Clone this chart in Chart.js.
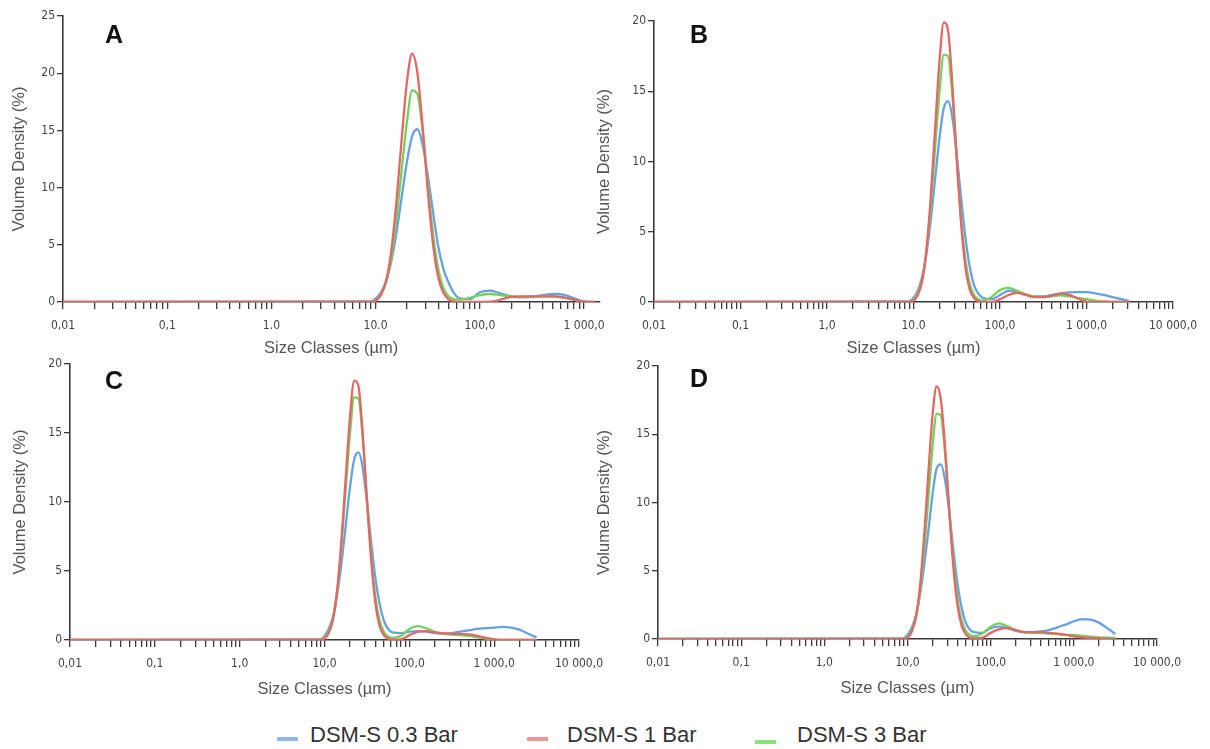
<!DOCTYPE html>
<html>
<head>
<meta charset="utf-8">
<script src="https://cdn.jsdelivr.net/npm/chart.js@4.4.1/dist/chart.umd.min.js"></script>
<style>
  html, body { margin: 0; padding: 0; background: #fff; }
  #wrap { position: relative; width: 1210px; height: 749px; overflow: hidden; background: #fff; }
  canvas { position: absolute; }
  .letter { position: absolute; font-family: 'Liberation Sans', Arial, sans-serif; font-weight: bold; font-size: 25px; line-height: 25px; color: #111; }
  .leg { position: absolute; font-family: 'Liberation Sans', Arial, sans-serif; font-size: 22px; line-height: 22px; color: #333; white-space: nowrap; }
  .sw { position: absolute; height: 4px; width: 21px; }
</style>
</head>
<body>
<div id="wrap">
  <canvas id="cA" width="615" height="362" style="left:0px;top:0px"></canvas>
  <canvas id="cB" width="615" height="362" style="left:595px;top:0px"></canvas>
  <canvas id="cC" width="615" height="362" style="left:0px;top:345px"></canvas>
  <canvas id="cD" width="615" height="362" style="left:595px;top:345px"></canvas>
  <div class="letter" style="left:105px;top:22px">A</div>
  <div class="letter" style="left:690px;top:22px">B</div>
  <div class="letter" style="left:105px;top:368px">C</div>
  <div class="letter" style="left:690px;top:366px">D</div>
  <div id="legend"></div>
</div>
<script>
// ---- data ----
const seriesNames = ['DSM-S 0.3 Bar', 'DSM-S 1 Bar', 'DSM-S 3 Bar'];
const sizeClasses = [0.01, 8.91, 10, 11.2, 12.6, 14.1, 15.8, 17.8, 20, 22.4, 25.1, 28.2, 31.6, 35.5, 39.8, 44.7, 50.1, 56.2, 63.1, 79.4, 100, 126, 158, 200, 251, 316, 398, 501, 631, 794, 1000, 1259, 1585, 1995, 2512, 3162];

const panelA_03 = [0, 0.05, 0.3, 0.8, 1.8, 3.5, 6.0, 9.2, 12.3, 14.5, 15.1, 13.8, 11.1, 7.9, 4.9, 2.9, 1.7, 0.8, 0.35, 0.25, 0.85, 1.0, 0.75, 0.5, 0.4, 0.45, 0.6, 0.7, 0.65, 0.35, 0.05, 0];
const panelA_1  = [0, 0, 0.1, 0.64, 1.85, 4.4, 8.7, 14.3, 19.3, 21.7, 20.1, 15.4, 9.8, 5.1, 2.2, 0.8, 0.25, 0.05, 0, 0, 0, 0.02, 0.2, 0.45, 0.5, 0.5, 0.5, 0.5, 0.4, 0.2, 0.03, 0];
const panelA_3  = [0, 0, 0.15, 0.6, 1.7, 3.8, 7.2, 11.6, 15.8, 18.5, 18.2, 15.0, 10.4, 6.0, 2.9, 1.2, 0.5, 0.25, 0.2, 0.35, 0.6, 0.7, 0.6, 0.5, 0.45, 0.45, 0.5, 0.5, 0.4, 0.2, 0.03, 0];

const panelB_03 = [0, 0.05, 0.3, 0.8, 1.8, 3.4, 5.8, 8.8, 11.7, 13.8, 14.3, 13.1, 10.5, 7.4, 4.6, 2.5, 1.2, 0.6, 0.3, 0.2, 0.5, 0.8, 0.7, 0.5, 0.4, 0.4, 0.5, 0.6, 0.68, 0.7, 0.7, 0.62, 0.5, 0.35, 0.2, 0.05];
const panelB_1  = [0, 0, 0.1, 0.5, 1.5, 3.7, 7.4, 12.4, 17.2, 19.9, 19.3, 15.4, 10.2, 5.6, 2.5, 0.9, 0.3, 0.05, 0, 0, 0.2, 0.5, 0.65, 0.5, 0.35, 0.35, 0.45, 0.6, 0.5, 0.25, 0.03, 0, 0, 0, 0, 0];
const panelB_3  = [0, 0, 0.15, 0.6, 1.6, 3.6, 6.8, 11.0, 15.0, 17.6, 17.5, 14.6, 10.2, 6.0, 3.0, 1.3, 0.5, 0.2, 0.1, 0.35, 0.85, 1.0, 0.8, 0.55, 0.4, 0.35, 0.4, 0.47, 0.4, 0.3, 0.2, 0.1, 0.04, 0.01, 0, 0];

const panelC_03 = [0, 0.05, 0.3, 0.8, 1.7, 3.3, 5.5, 8.3, 11.1, 13.1, 13.6, 12.5, 10.0, 7.1, 4.5, 2.6, 1.4, 0.8, 0.55, 0.5, 0.6, 0.65, 0.6, 0.5, 0.45, 0.5, 0.6, 0.7, 0.8, 0.85, 0.9, 0.95, 0.9, 0.75, 0.45, 0.2];
const panelC_1  = [0, 0, 0.1, 0.5, 1.5, 3.6, 7.1, 11.8, 16.2, 18.8, 18.4, 15.0, 10.2, 5.8, 2.7, 1.0, 0.35, 0.1, 0.02, 0.05, 0.35, 0.6, 0.65, 0.55, 0.5, 0.45, 0.45, 0.4, 0.3, 0.15, 0.05, 0, 0, 0, 0, 0];
const panelC_3  = [0, 0, 0.15, 0.6, 1.6, 3.6, 6.8, 11.0, 15.0, 17.6, 17.5, 14.6, 10.3, 6.2, 3.1, 1.4, 0.6, 0.25, 0.15, 0.3, 0.8, 1.0, 0.85, 0.6, 0.45, 0.4, 0.35, 0.3, 0.2, 0.1, 0.03, 0, 0, 0, 0, 0];

const panelD_03 = [0, 0.05, 0.3, 0.8, 1.7, 3.2, 5.3, 7.9, 10.6, 12.5, 12.8, 11.7, 9.4, 6.6, 4.1, 2.3, 1.2, 0.7, 0.5, 0.45, 0.8, 0.9, 0.8, 0.6, 0.5, 0.5, 0.55, 0.65, 0.85, 1.05, 1.3, 1.45, 1.42, 1.2, 0.8, 0.37];
const panelD_1  = [0, 0, 0.1, 0.5, 1.6, 3.8, 7.4, 12.1, 16.4, 18.5, 17.6, 14.2, 9.6, 5.4, 2.5, 1.0, 0.35, 0.1, 0.05, 0.1, 0.45, 0.7, 0.8, 0.65, 0.5, 0.5, 0.5, 0.45, 0.4, 0.3, 0.2, 0.12, 0.08, 0.05, 0.02, 0];
const panelD_3  = [0, 0, 0.15, 0.6, 1.5, 3.4, 6.4, 10.3, 14.1, 16.5, 16.4, 13.7, 9.7, 5.9, 3.0, 1.4, 0.6, 0.3, 0.2, 0.4, 0.9, 1.15, 0.95, 0.65, 0.5, 0.45, 0.45, 0.4, 0.35, 0.3, 0.3, 0.22, 0.17, 0.12, 0.09, 0.07];

const decadeTicks = [0.01, 0.1, 1, 10, 100, 1000, 10000];
const labelsA = ['0,01', '0,1', '1.0', '10.0', '100,0', '1 000,0'];
const labelsB = ['0,01', '0,1', '1,0', '10.0', '100,0', '1 000,0', '10 000,0'];
const labelsC = ['0,01', '0,1', '1,0', '10,0', '100,0', '1 000,0', '10 000,0'];
const labelsD = ['0,01', '0,1', '1,0', '10,0', '100,0', '1 000,0', '10 000,0'];
const yTicksA = [0, 5, 10, 15, 20, 25];
const yTicksBCD = [0, 5, 10, 15, 20];

// ---- styles ----
const colors = { s03: 'rgba(104,160,228,1)', s1: 'rgba(230,102,102,1)', s3: 'rgba(112,212,92,1)' };
const swatchColors = ['rgba(140,185,235,1)', 'rgba(236,150,150,1)', 'rgba(140,225,125,1)'];
const tickFont = { family: "'Liberation Sans Narrow','DejaVu Sans Condensed','Liberation Sans',sans-serif", size: 12 };
const titleFont = { family: "'Liberation Sans',Arial,sans-serif", size: 16.5 };
const axisColor = '#3a3a3a';

function pts(vals) { return vals.map((v, i) => ({ x: sizeClasses[i], y: v })); }

function makePanel(id, cfg) {
  const ds = [
    { label: seriesNames[1], data: pts(cfg.s1), borderColor: colors.s1, order: 1 },
    { label: seriesNames[2], data: pts(cfg.s3), borderColor: colors.s3, order: 2 },
    { label: seriesNames[0], data: pts(cfg.s03), borderColor: colors.s03, order: 3 }
  ].map(d => Object.assign(d, { borderWidth: 2.3, pointRadius: 0, fill: false, cubicInterpolationMode: 'monotone' }));

  const majors = decadeTicks.slice(0, cfg.labels.length);
  new Chart(document.getElementById(id), {
    type: 'line',
    data: { datasets: ds },
    options: {
      responsive: false,
      animation: false,
      devicePixelRatio: 1,
      layout: { padding: cfg.pad },
      plugins: { legend: { display: false }, tooltip: { enabled: false } },
      scales: {
        x: {
          type: 'logarithmic',
          min: 0.01, max: cfg.xmax,
          afterFit: s => { s.height = cfg.xh; },
          afterBuildTicks: s => {
            const t = [];
            majors.forEach(d => {
              t.push({ value: d, major: true });
              for (let k = 2; k <= 9; k++) { if (d * k <= cfg.xmax) t.push({ value: d * k }); }
            });
            s.ticks = t;
          },
          ticks: {
            autoSkip: false, maxRotation: 0, minRotation: 0, padding: 10, color: '#444', font: tickFont,
            callback: function (v) {
              const i = majors.findIndex(m => Math.abs(m - v) / m < 1e-6);
              return i >= 0 ? cfg.labels[i] : '';
            }
          },
          grid: { drawOnChartArea: false, drawTicks: true, tickLength: 7, color: axisColor, lineWidth: 1.3 },
          border: { display: true, color: axisColor, width: 1.6 },
          title: { display: true, text: 'Size Classes (µm)', color: '#555', font: titleFont, padding: { top: 0, bottom: cfg.xtp } }
        },
        y: {
          min: 0, max: cfg.ymax,
          afterFit: s => { s.width = cfg.yw; },
          afterBuildTicks: s => { s.ticks = cfg.yticks.map(v => ({ value: v })); },
          ticks: { padding: 2, color: '#444', font: tickFont },
          grid: { drawOnChartArea: false, drawTicks: true, tickLength: 6, color: axisColor, lineWidth: 1.3 },
          border: { display: true, color: axisColor, width: 1.6 },
          title: { display: true, text: 'Volume Density (%)', color: '#555', font: titleFont, padding: { top: cfg.ytp, bottom: 0 } }
        }
      }
    }
  });
}

makePanel('cA', { s03: panelA_03, s1: panelA_1, s3: panelA_3, labels: labelsA, xmax: 1400, ymax: 25, yticks: yTicksA,
  pad: { top: 16, right: 12, left: 0, bottom: 0 }, yw: 63, xh: 60, xtp: 4, ytp: 10 });
makePanel('cB', { s03: panelB_03, s1: panelB_1, s3: panelB_3, labels: labelsB, xmax: 10000, ymax: 20, yticks: yTicksBCD,
  pad: { top: 21, right: 37, left: 0, bottom: 0 }, yw: 59, xh: 60, xtp: 4, ytp: 0 });
makePanel('cC', { s03: panelC_03, s1: panelC_1, s3: panelC_3, labels: labelsC, xmax: 10000, ymax: 20, yticks: yTicksBCD,
  pad: { top: 19, right: 36, left: 0, bottom: 0 }, yw: 70, xh: 67, xtp: 8, ytp: 11 });
makePanel('cD', { s03: panelD_03, s1: panelD_1, s3: panelD_3, labels: labelsD, xmax: 10000, ymax: 20, yticks: yTicksBCD,
  pad: { top: 21, right: 53, left: 0, bottom: 0 }, yw: 63, xh: 68, xtp: 9, ytp: 0 });

// ---- legend ----
const legendPos = [ { sw: 277, swy: 737, tx: 310 }, { sw: 527, swy: 737, tx: 567 }, { sw: 755, swy: 740, tx: 797 } ];
const leg = document.getElementById('legend');
seriesNames.forEach((n, i) => {
  const s = document.createElement('div');
  s.className = 'sw';
  s.style.left = legendPos[i].sw + 'px'; s.style.top = legendPos[i].swy + 'px'; s.style.background = swatchColors[i];
  leg.appendChild(s);
  const t = document.createElement('div');
  t.className = 'leg';
  t.style.left = legendPos[i].tx + 'px'; t.style.top = '724px';
  t.textContent = n;
  leg.appendChild(t);
});
</script>
</body>
</html>
